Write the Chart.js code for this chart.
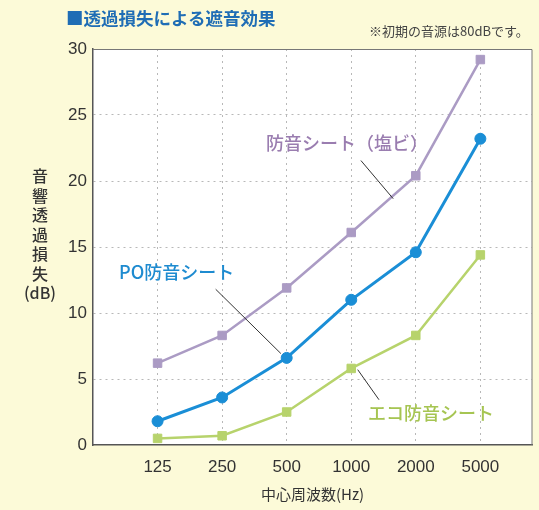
<!DOCTYPE html>
<html>
<head>
<meta charset="utf-8">
<script src="https://cdn.jsdelivr.net/npm/chart.js@4/dist/chart.umd.min.js"></script>
<style>
  html, body { margin: 0; padding: 0; background: #fcfad8; }
  #wrap { position: relative; width: 539px; height: 510px; }
  #title { position: absolute; left: 66px; top: 5px; font: bold 17.5px "Noto Sans CJK JP"; color: #1f6db5; }
  #note { position: absolute; left: 369px; top: 21px; font: 13px "Noto Sans CJK JP"; color: #444; }
  #ytitle { position: absolute; left: 20px; top: 166px; width: 40px; text-align: center; font: 500 16px "Noto Sans CJK JP"; color: #333; line-height: 19.5px; }
</style>
</head>
<body>
<div id="wrap">
  <canvas id="grafico" width="539" height="510"></canvas>
  <div id="title">■透過損失による遮音効果</div>
  <div id="note">※初期の音源は80dBです。</div>
  <div id="ytitle">音<br>響<br>透<br>過<br>損<br>失<br>(dB)</div>
</div>
<script>
/* Datos */
const frecuencias = ['125', '250', '500', '1000', '2000', '5000'];
const enviVinilo = [6.2, 8.3, 11.9, 16.1, 20.4, 29.2];
const envioPO = [1.8, 3.6, 6.6, 11.0, 14.6, 23.2];
const envioEco = [0.5, 0.7, 2.5, 5.8, 8.3, 14.4];
const yTicks = [0, 5, 10, 15, 20, 25, 30];

const puntos = (arr) => arr.map((v, i) => ({ x: i + 1, y: v }));

/* Etiquetas con lineas guia: [texto, color, x texto, y texto, linea desde (x,y) hasta (x,y) en unidades de datos] */
const etiquetas = [
  ['防音シート（塩ビ）', '#9a7db0', 266, 143, [4.15, 21.55], [4.65, 18.66]],
  ['PO防音シート', '#1e8bd0', 119, 272, [1.9, 11.8], [2.91, 6.93]],
  ['エコ防音シート', '#a6c552', 368, 413, [4.1, 5.71], [4.43, 3.43]]
];

/* Fondo blanco del area + bordes + etiquetas */
const decoracion = {
  id: 'decoracion',
  beforeDraw(chart) {
    const { ctx, chartArea: a } = chart;
    ctx.save();
    ctx.fillStyle = '#ffffff';
    ctx.fillRect(a.left, a.top, a.right - a.left, a.bottom - a.top);
    ctx.restore();
  },
  afterDatasetsDraw(chart) {
    const { ctx, chartArea: a, scales } = chart;
    ctx.save();
    ctx.strokeStyle = '#777';
    ctx.lineWidth = 1;
    ctx.beginPath();
    ctx.moveTo(a.left, a.top + 0.5);
    ctx.lineTo(a.right, a.top + 0.5);
    ctx.lineTo(a.right, a.bottom);
    ctx.stroke();

    ctx.strokeStyle = '#333';
    ctx.lineWidth = 1;
    ctx.font = '500 18px "Noto Sans CJK JP"';
    ctx.textBaseline = 'middle';
    etiquetas.forEach(([texto, color, tx, ty, p1, p2]) => {
      ctx.beginPath();
      ctx.moveTo(scales.x.getPixelForValue(p1[0]), scales.y.getPixelForValue(p1[1]));
      ctx.lineTo(scales.x.getPixelForValue(p2[0]), scales.y.getPixelForValue(p2[1]));
      ctx.stroke();
      ctx.fillStyle = color;
      ctx.fillText(texto, tx, ty);
    });
    ctx.restore();
  }
};

const serie = (label, data, color, estilo, radio, grosor) => ({
  label,
  data: puntos(data),
  borderColor: color,
  backgroundColor: color,
  pointStyle: estilo,
  pointRadius: radio,
  pointBorderWidth: 1,
  borderWidth: grosor,
  tension: 0
});

const config = {
  type: 'line',
  data: {
    datasets: [
      serie('防音シート(塩ビ)', enviVinilo, '#ab9bc4', 'rect', 6, 2.5),
      serie('PO防音シート', envioPO, '#1a8ed6', 'circle', 5.5, 3),
      serie('エコ防音シート', envioEco, '#b7d36c', 'rect', 6, 2.5)
    ]
  },
  options: {
    responsive: false,
    animation: false,
    layout: { padding: { top: 49, right: 4, left: 0, bottom: 7 } },
    plugins: { legend: { display: false }, tooltip: { enabled: false } },
    scales: {
      x: {
        type: 'linear',
        min: 0,
        max: 6.8,
        afterFit: (s) => { s.height = 58; },
        afterBuildTicks: (s) => { s.ticks = [0, 1, 2, 3, 4, 5, 6].map((v) => ({ value: v })); },
        ticks: {
          color: '#333',
          font: { family: 'Liberation Sans', size: 17 },
          padding: 12,
          callback: (v) => frecuencias[v - 1] || ''
        },
        grid: {
          color: (c) => (c.tick && c.tick.value === 0 ? 'rgba(0,0,0,0)' : '#b8b8b8'),
          drawTicks: false
        },
        border: { display: true, color: '#555', width: 1.5, dash: [2, 4] },
        title: {
          display: true,
          text: '中心周波数(Hz)',
          color: '#333',
          font: { family: 'Noto Sans CJK JP', size: 15 },
          padding: { top: 2, bottom: 0 }
        }
      },
      y: {
        min: 0,
        max: 30,
        afterFit: (s) => { s.width = 93; },
        afterBuildTicks: (s) => { s.ticks = yTicks.map((v) => ({ value: v })); },
        ticks: {
          color: '#333',
          font: { family: 'Liberation Sans', size: 17 },
          padding: 6
        },
        grid: {
          color: (c) => (c.tick && (c.tick.value === 0 || c.tick.value === 30) ? 'rgba(0,0,0,0)' : '#b8b8b8'),
          drawTicks: false
        },
        border: { display: true, color: '#555', width: 1.5, dash: [2, 4] }
      }
    }
  },
  plugins: [decoracion]
};

const chartInstance = new Chart(document.getElementById('grafico').getContext('2d'), config);
</script>
</body>
</html>
